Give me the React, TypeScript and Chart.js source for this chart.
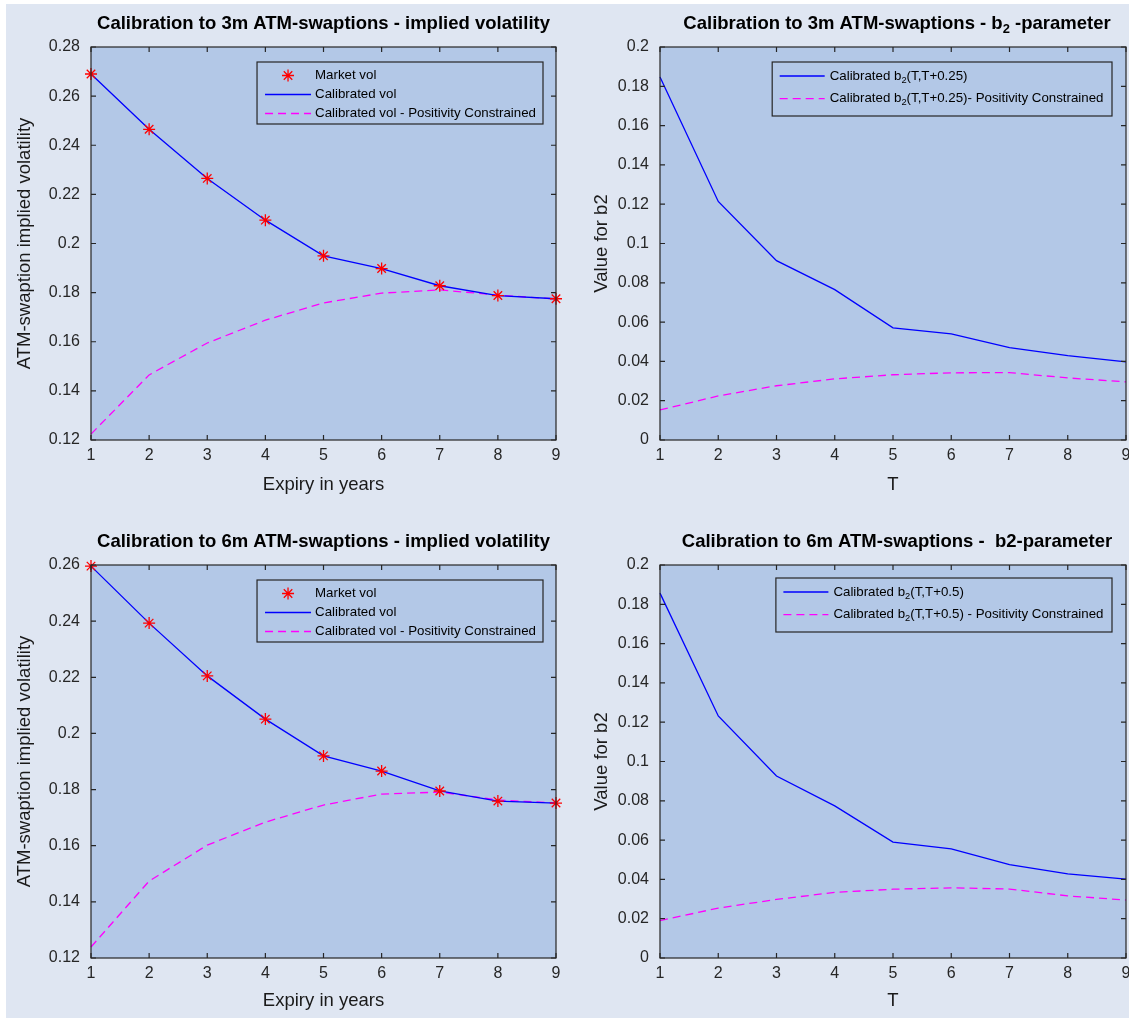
import React, { useEffect, useRef } from 'react';
import { Chart, registerables } from 'chart.js';

Chart.register(...registerables);

const FONT = '"Liberation Sans", Arial, Helvetica, sans-serif';
const FIG_BG = '#DFE6F2';
const AXES_BG = '#B3C8E7';
const AXIS_COLOR = '#262626';
const BLUE = '#0000FF';
const MAGENTA = '#FF00FF';
const RED = '#FF0000';

// ---------------- data ----------------
const expiry = [1, 2, 3, 4, 5, 6, 7, 8, 9];
const xTickLabels = ['1', '2', '3', '4', '5', '6', '7', '8', '9'];

const marketVol3m = [0.269, 0.2465, 0.2265, 0.2095, 0.195, 0.1898, 0.1828, 0.1788, 0.1775];
const calibVol3m = [0.269, 0.2465, 0.2265, 0.2095, 0.195, 0.1898, 0.1828, 0.1788, 0.1775];
const posVol3m = [0.1224, 0.1465, 0.1595, 0.1688, 0.1758, 0.1798, 0.1811, 0.179, 0.1774];

const b2Calib3m = [0.1847, 0.1214, 0.0913, 0.0765, 0.0571, 0.054, 0.047, 0.0429, 0.0398];
const b2Pos3m = [0.0153, 0.0224, 0.0276, 0.0311, 0.0332, 0.0342, 0.0343, 0.0316, 0.0296];

const marketVol6m = [0.2596, 0.2393, 0.2205, 0.2051, 0.192, 0.1866, 0.1795, 0.1759, 0.1752];
const calibVol6m = [0.2596, 0.2393, 0.2205, 0.2051, 0.192, 0.1866, 0.1795, 0.1759, 0.1752];
const posVol6m = [0.1239, 0.1474, 0.1602, 0.1684, 0.1745, 0.1784, 0.1791, 0.1763, 0.1752];

const b2Calib6m = [0.1857, 0.1232, 0.0926, 0.0774, 0.059, 0.0555, 0.0475, 0.0428, 0.0401];
const b2Pos6m = [0.019, 0.0254, 0.0298, 0.0334, 0.035, 0.0357, 0.0351, 0.0316, 0.0295];

const volTicks3m = ['0.12', '0.14', '0.16', '0.18', '0.2', '0.22', '0.24', '0.26', '0.28'];
const volTicks6m = ['0.12', '0.14', '0.16', '0.18', '0.2', '0.22', '0.24', '0.26'];
const b2Ticks = ['0', '0.02', '0.04', '0.06', '0.08', '0.1', '0.12', '0.14', '0.16', '0.18', '0.2'];

const titles = [
  'Calibration to 3m ATM-swaptions - implied volatility',
  'Calibration to 3m ATM-swaptions - b_{2} -parameter',
  'Calibration to 6m ATM-swaptions - implied volatility',
  'Calibration to 6m ATM-swaptions -  b2-parameter',
];
const volLabels = ['Market vol', 'Calibrated vol', 'Calibrated vol - Positivity Constrained'];
const b2Labels3m = ['Calibrated b_{2}(T,T+0.25)', 'Calibrated b_{2}(T,T+0.25)- Positivity Constrained'];
const b2Labels6m = ['Calibrated b_{2}(T,T+0.5)', 'Calibrated b_{2}(T,T+0.5) - Positivity Constrained'];
const volYTitle = 'ATM-swaption implied volatility';
const b2YTitle = 'Value for b2';
const volXTitle = 'Expiry in years';
const b2XTitle = 'T';

// ---------------- rich text helpers ----------------
type Seg = { t: string; sub: boolean };
function parseRich(s: string): Seg[] {
  const segs: Seg[] = [];
  const re = /_\{([^}]*)\}/g;
  let last = 0;
  let m: RegExpExecArray | null;
  while ((m = re.exec(s))) {
    if (m.index > last) segs.push({ t: s.slice(last, m.index), sub: false });
    segs.push({ t: m[1], sub: true });
    last = re.lastIndex;
  }
  if (last < s.length) segs.push({ t: s.slice(last), sub: false });
  return segs;
}
function fontStr(size: number, bold: boolean) {
  return `${bold ? 'bold ' : ''}${size}px ${FONT}`;
}
function richWidth(ctx: CanvasRenderingContext2D, segs: Seg[], size: number, bold: boolean) {
  let w = 0;
  for (const s of segs) {
    ctx.font = fontStr(s.sub ? size * 0.7 : size, bold);
    w += ctx.measureText(s.t).width;
  }
  return w;
}
function drawRich(
  ctx: CanvasRenderingContext2D, segs: Seg[], x: number, y: number, size: number, bold: boolean, color: string
) {
  ctx.fillStyle = color;
  ctx.textAlign = 'left';
  ctx.textBaseline = 'middle';
  let cx = x;
  for (const s of segs) {
    const sz = s.sub ? size * 0.7 : size;
    ctx.font = fontStr(sz, bold);
    ctx.fillText(s.t, cx, s.sub ? y + size * 0.32 : y);
    cx += ctx.measureText(s.t).width;
  }
}
function drawStar(ctx: CanvasRenderingContext2D, x: number, y: number, r: number) {
  const d = r * Math.SQRT1_2;
  ctx.beginPath();
  ctx.moveTo(x - r, y); ctx.lineTo(x + r, y);
  ctx.moveTo(x, y - r); ctx.lineTo(x, y + r);
  ctx.moveTo(x - d, y - d); ctx.lineTo(x + d, y + d);
  ctx.moveTo(x - d, y + d); ctx.lineTo(x + d, y - d);
  ctx.stroke();
}

// ---------------- plugins ----------------
const bgPlugin = {
  id: 'axesBg',
  beforeDatasetsDraw(chart: any) {
    const { ctx, chartArea: a } = chart;
    ctx.save();
    ctx.fillStyle = AXES_BG;
    ctx.fillRect(a.left, a.top, a.right - a.left, a.bottom - a.top);
    ctx.restore();
  },
};

const framePlugin = {
  id: 'axesFrame',
  afterDatasetsDraw(chart: any) {
    const { ctx, chartArea: a, scales } = chart;
    const tl = 5;
    ctx.save();
    ctx.strokeStyle = AXIS_COLOR;
    ctx.lineWidth = 1.2;
    ctx.beginPath();
    for (const t of scales.x.ticks) {
      const px = scales.x.getPixelForValue(t.value);
      ctx.moveTo(px, a.bottom); ctx.lineTo(px, a.bottom - tl);
      ctx.moveTo(px, a.top); ctx.lineTo(px, a.top + tl);
    }
    for (const t of scales.y.ticks) {
      const py = scales.y.getPixelForValue(t.value);
      ctx.moveTo(a.left, py); ctx.lineTo(a.left + tl, py);
      ctx.moveTo(a.right, py); ctx.lineTo(a.right - tl, py);
    }
    ctx.stroke();
    ctx.strokeRect(a.left, a.top, a.right - a.left, a.bottom - a.top);
    ctx.restore();
  },
};

function titlePlugin(text: string, shift: number) {
  return {
    id: 'richTitle',
    afterDraw(chart: any) {
      const { ctx, chartArea: a } = chart;
      const segs = parseRich(text);
      const size = 18.5;
      ctx.save();
      const w = richWidth(ctx, segs, size, true);
      const cx = (a.left + a.right) / 2 + shift;
      drawRich(ctx, segs, cx - w / 2, a.top - 23, size, true, '#000000');
      ctx.restore();
    },
  };
}

type LegendOpts = {
  right: number; top: number; firstRow: number; rowH: number; lastPad: number;
  padL: number; lineLen: number; gap: number; padR: number;
};
function legendPlugin(o: LegendOpts) {
  return {
    id: 'boxLegend',
    afterDraw(chart: any) {
      const { ctx, chartArea: a } = chart;
      const size = 13.3;
      const items = chart.data.datasets.map((ds: any) => ({
        segs: parseRich(ds.label),
        color: ds.borderColor,
        dash: ds.borderDash || [],
        marker: ds.showLine === false,
        lw: ds.borderWidth,
      }));
      ctx.save();
      const maxW = Math.max(...items.map((it: any) => richWidth(ctx, it.segs, size, false)));
      const boxW = o.padL + o.lineLen + o.gap + maxW + o.padR;
      const boxH = o.firstRow + (items.length - 1) * o.rowH + o.lastPad;
      const right = a.right - o.right;
      const left = right - boxW;
      const top = a.top + o.top;
      ctx.fillStyle = AXES_BG;
      ctx.fillRect(left, top, boxW, boxH);
      ctx.strokeStyle = AXIS_COLOR;
      ctx.lineWidth = 1.2;
      ctx.strokeRect(left, top, boxW, boxH);
      items.forEach((it: any, i: number) => {
        const cy = top + o.firstRow + i * o.rowH;
        const x0 = left + o.padL;
        const x1 = x0 + o.lineLen;
        ctx.strokeStyle = it.color;
        if (it.marker) {
          ctx.lineWidth = 1.3;
          ctx.setLineDash([]);
          drawStar(ctx, (x0 + x1) / 2, cy, 6);
        } else {
          ctx.lineWidth = it.lw;
          ctx.setLineDash(it.dash);
          ctx.beginPath();
          ctx.moveTo(x0, cy);
          ctx.lineTo(x1, cy);
          ctx.stroke();
          ctx.setLineDash([]);
        }
        drawRich(ctx, it.segs, x1 + o.gap, cy, size, false, '#000000');
      });
      ctx.restore();
    },
  };
}

// ---------------- config ----------------
function pts(arr: number[]) {
  return expiry.map((x, i) => ({ x, y: arr[i] }));
}
function markerDs(label: string, arr: number[]) {
  return {
    label, data: pts(arr), showLine: false, pointStyle: 'star', pointRadius: 6,
    pointBorderColor: RED, pointBackgroundColor: RED, pointBorderWidth: 1.3,
    borderColor: RED, borderWidth: 1.3, clip: false,
  };
}
function lineDs(label: string, arr: number[], color: string, dash: number[]) {
  return {
    label, data: pts(arr), borderColor: color, backgroundColor: color, borderWidth: 1.3,
    borderDash: dash, pointRadius: 0, tension: 0, clip: false, fill: false,
  };
}

type PanelSpec = {
  title: string; titleShift: number;
  datasets: any[]; yTicks: string[]; yTitle: string; xTitle: string;
  yWidth: number; yTitlePad: number; xHeight: number; xTitlePad: number;
  legend: LegendOpts;
};

function makeConfig(p: PanelSpec) {
  const yVals = p.yTicks.map(Number);
  return {
    type: 'line',
    data: { datasets: p.datasets },
    options: {
      animation: false,
      responsive: false,
      events: [],
      layout: { padding: { top: 43, right: 14, left: 0, bottom: 0 } },
      plugins: { legend: { display: false }, tooltip: { enabled: false }, title: { display: false } },
      scales: {
        x: {
          type: 'linear',
          min: Number(xTickLabels[0]),
          max: Number(xTickLabels[xTickLabels.length - 1]),
          afterBuildTicks: (s: any) => { s.ticks = xTickLabels.map((l) => ({ value: Number(l) })); },
          afterFit: (s: any) => { s.height = p.xHeight; },
          grid: { display: false, drawTicks: false },
          border: { display: false },
          ticks: {
            autoSkip: false, maxRotation: 0, padding: 6, color: AXIS_COLOR,
            font: { family: FONT, size: 16 },
            callback: (_v: any, i: number) => xTickLabels[i],
          },
          title: {
            display: true, text: p.xTitle, color: '#1a1a1a',
            font: { family: FONT, size: 18.5 }, padding: { top: 0, bottom: p.xTitlePad },
          },
        },
        y: {
          type: 'linear',
          min: yVals[0],
          max: yVals[yVals.length - 1],
          afterBuildTicks: (s: any) => { s.ticks = yVals.map((v) => ({ value: v })); },
          afterFit: (s: any) => { s.width = p.yWidth; },
          grid: { display: false, drawTicks: false },
          border: { display: false },
          ticks: {
            autoSkip: false, padding: 11, color: AXIS_COLOR,
            font: { family: FONT, size: 16 },
            callback: (_v: any, i: number) => p.yTicks[i],
          },
          title: {
            display: true, text: p.yTitle, color: '#1a1a1a',
            font: { family: FONT, size: 18.5 }, padding: { top: p.yTitlePad, bottom: 0 },
          },
        },
      },
    },
    plugins: [bgPlugin, framePlugin, titlePlugin(p.title, p.titleShift), legendPlugin(p.legend)],
  };
}

const volLegend: LegendOpts = { right: 13, top: 15, firstRow: 13.5, rowH: 19, lastPad: 10.5, padL: 8, lineLen: 46, gap: 4, padR: 7 };
const b2Legend3: LegendOpts = { right: 14, top: 15, firstRow: 14, rowH: 22.6, lastPad: 17.4, padL: 7.5, lineLen: 45, gap: 5, padR: 8.5 };
const b2Legend6: LegendOpts = { right: 14, top: 13, firstRow: 14, rowH: 22.6, lastPad: 17.4, padL: 7.5, lineLen: 45, gap: 5, padR: 8.5 };

const panels = [
  {
    left: 0, top: 0, width: 564, height: 518,
    spec: {
      title: titles[0], titleShift: 0,
      datasets: [markerDs(volLabels[0], marketVol3m), lineDs(volLabels[1], calibVol3m, BLUE, []), lineDs(volLabels[2], posVol3m, MAGENTA, [8, 5])],
      yTicks: volTicks3m, yTitle: volYTitle, xTitle: volXTitle,
      yWidth: 85, yTitlePad: 8, xHeight: 82, xTitlePad: 26, legend: volLegend,
    },
  },
  {
    left: 564, top: 0, width: 570, height: 518,
    spec: {
      title: titles[1], titleShift: 4,
      datasets: [lineDs(b2Labels3m[0], b2Calib3m, BLUE, []), lineDs(b2Labels3m[1], b2Pos3m, MAGENTA, [8, 5])],
      yTicks: b2Ticks, yTitle: b2YTitle, xTitle: b2XTitle,
      yWidth: 90, yTitlePad: 21, xHeight: 82, xTitlePad: 26, legend: b2Legend3,
    },
  },
  {
    left: 0, top: 518, width: 564, height: 496,
    spec: {
      title: titles[2], titleShift: 0,
      datasets: [markerDs(volLabels[0], marketVol6m), lineDs(volLabels[1], calibVol6m, BLUE, []), lineDs(volLabels[2], posVol6m, MAGENTA, [8, 5])],
      yTicks: volTicks6m, yTitle: volYTitle, xTitle: volXTitle,
      yWidth: 85, yTitlePad: 8, xHeight: 60, xTitlePad: 6, legend: { ...volLegend, top: 15 },
    },
  },
  {
    left: 564, top: 518, width: 570, height: 496,
    spec: {
      title: titles[3], titleShift: 4,
      datasets: [lineDs(b2Labels6m[0], b2Calib6m, BLUE, []), lineDs(b2Labels6m[1], b2Pos6m, MAGENTA, [8, 5])],
      yTicks: b2Ticks, yTitle: b2YTitle, xTitle: b2XTitle,
      yWidth: 90, yTitlePad: 21, xHeight: 60, xTitlePad: 6, legend: b2Legend6,
    },
  },
];

function Panel({ left, top, width, height, spec }: any) {
  const ref = useRef<HTMLCanvasElement>(null);
  useEffect(() => {
    if (!ref.current) return;
    const chart = new Chart(ref.current, makeConfig(spec) as any);
    return () => chart.destroy();
  }, []);
  return (
    <canvas
      ref={ref}
      width={width}
      height={height}
      style={{ position: 'absolute', left, top, width, height, display: 'block' }}
    />
  );
}

export default function App() {
  return (
    <div
      style={{
        position: 'absolute', left: 6, top: 4, width: 1123, height: 1014,
        overflow: 'hidden', background: FIG_BG,
      }}
    >
      {panels.map((p, i) => (
        <Panel key={i} {...p} />
      ))}
    </div>
  );
}
